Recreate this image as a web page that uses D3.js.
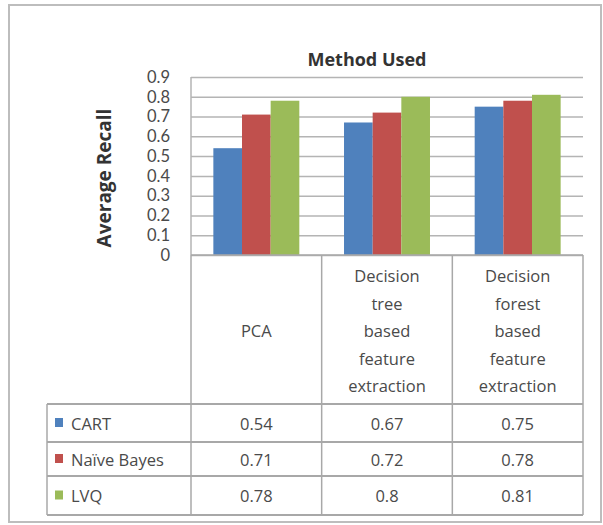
<!DOCTYPE html>
<html>
<head>
<meta charset="utf-8">
<script src="https://cdn.jsdelivr.net/npm/d3@7/dist/d3.min.js"></script>
<style>
  html, body { margin: 0; padding: 0; background: #fff; }
  svg { display: block; }
  text { font-family: "Open Sans", "Lato", sans-serif; }
</style>
</head>
<body>
<svg id="chart" width="603" height="525"></svg>
<script>
// ---- data ----
const categories = ["PCA", "Decision tree based feature extraction", "Decision forest based feature extraction"];
const categoryLines = [["PCA"], ["Decision", "tree", "based", "feature", "extraction"], ["Decision", "forest", "based", "feature", "extraction"]];
const seriesNames = ["CART", "Naïve Bayes", "LVQ"];
const cartValues = [0.54, 0.67, 0.75];
const naiveBayesValues = [0.71, 0.72, 0.78];
const lvqValues = [0.78, 0.8, 0.81];
const tableLabels = [["0.54", "0.67", "0.75"], ["0.71", "0.72", "0.78"], ["0.78", "0.8", "0.81"]];
const seriesColors = ["#4F81BD", "#C0504D", "#9BBB59"];
const yTicks = [0, 0.1, 0.2, 0.3, 0.4, 0.5, 0.6, 0.7, 0.8, 0.9];
const chartTitle = "Method Used";
const yTitle = "Average Recall";

const seriesValues = [cartValues, naiveBayesValues, lvqValues];

// ---- layout ----
const svg = d3.select("#chart");
const plot = { left: 191, right: 583, top: 77, bottom: 255 };
const table = { left: 47, headerBottom: 404, rowBottoms: [442, 476, 515] };
const gridColor = "#b4b4b4";
const lineColor = "#a8a8a8";

// outer frame
svg.append("rect")
  .attr("x", 9).attr("y", 5).attr("width", 592).attr("height", 517)
  .attr("fill", "#fff").attr("stroke", "#bdbdbd").attr("stroke-width", 2);

const x = d3.scaleBand().domain(categories).range([plot.left, plot.right]).padding(0);
const xs = d3.scaleBand().domain(seriesNames).range([0, x.bandwidth()]).paddingInner(0).paddingOuter(0.78);
const y = d3.scaleLinear().domain([0, 0.9]).range([plot.bottom, plot.top]);

// gridlines + y axis
const yAxis = d3.axisLeft(y)
  .tickValues(yTicks)
  .tickFormat(d => d3.format("")(+d.toFixed(1)))
  .tickSize(-(plot.right - plot.left))
  .tickPadding(21);
const gy = svg.append("g").attr("transform", `translate(${plot.left},0)`).call(yAxis);
gy.select(".domain").remove();
gy.selectAll(".tick line").attr("stroke", gridColor).attr("stroke-width", 1.5);
gy.selectAll(".tick text")
  .attr("font-size", 16.5).attr("fill", "#4a4a4a")
  .style("font-family", 'Lato, "Open Sans", sans-serif');

// left axis line
svg.append("line")
  .attr("x1", plot.left).attr("x2", plot.left)
  .attr("y1", plot.top).attr("y2", plot.bottom)
  .attr("stroke", gridColor).attr("stroke-width", 1.5);

// bars
const data = [];
categories.forEach((c, ci) => seriesNames.forEach((s, si) => data.push({ c, s, si, v: seriesValues[si][ci] })));
svg.append("g").selectAll("rect").data(data).join("rect")
  .attr("x", d => x(d.c) + xs(d.s))
  .attr("width", xs.bandwidth())
  .attr("y", d => y(d.v))
  .attr("height", d => y(0) - y(d.v))
  .attr("fill", d => seriesColors[d.si]);

// titles
svg.append("text")
  .attr("x", 367).attr("y", 59)
  .attr("text-anchor", "middle").attr("dominant-baseline", "central")
  .attr("font-size", 18).attr("font-weight", "bold").attr("fill", "#333")
  .text(chartTitle);

svg.append("text")
  .attr("transform", "translate(104,178) rotate(-90)")
  .attr("text-anchor", "middle").attr("dominant-baseline", "central")
  .attr("font-size", 19).attr("font-weight", "bold").attr("fill", "#333")
  .text(yTitle);

// ---- data table ----
const tg = svg.append("g");
const colEdges = [plot.left].concat(categories.map(c => x(c) + x.bandwidth()));
tg.append("line").attr("x1", plot.left).attr("x2", plot.right)
  .attr("y1", plot.bottom).attr("y2", plot.bottom)
  .attr("stroke", lineColor).attr("stroke-width", 1.5);
colEdges.forEach(cx => {
  tg.append("line").attr("x1", cx).attr("x2", cx)
    .attr("y1", plot.bottom).attr("y2", table.rowBottoms[2])
    .attr("stroke", lineColor).attr("stroke-width", 1.5);
});
tg.append("line").attr("x1", table.left).attr("x2", table.left)
  .attr("y1", table.headerBottom).attr("y2", table.rowBottoms[2])
  .attr("stroke", lineColor).attr("stroke-width", 1.5);
[table.headerBottom].concat(table.rowBottoms).forEach(ry => {
  tg.append("line").attr("x1", table.left).attr("x2", plot.right)
    .attr("y1", ry).attr("y2", ry)
    .attr("stroke", lineColor).attr("stroke-width", 2);
});

// header text
const headerMid = (plot.bottom + table.headerBottom) / 2 + 1;
const lineH = 27.5;
categories.forEach((c, ci) => {
  const lines = categoryLines[ci];
  const cx = x(c) + x.bandwidth() / 2;
  lines.forEach((ln, li) => {
    tg.append("text")
      .attr("x", cx)
      .attr("y", headerMid + (li - (lines.length - 1) / 2) * lineH)
      .attr("text-anchor", "middle").attr("dominant-baseline", "central")
      .attr("font-size", 16.5).attr("fill", "#4a4a4a")
      .text(ln);
  });
});

// rows
const rowTops = [table.headerBottom].concat(table.rowBottoms.slice(0, 2));
seriesNames.forEach((s, si) => {
  const cy = (rowTops[si] + table.rowBottoms[si]) / 2;
  tg.append("rect")
    .attr("x", 55).attr("y", cy - 5).attr("width", 8).attr("height", 9)
    .attr("fill", seriesColors[si]);
  tg.append("text")
    .attr("x", 71).attr("y", cy)
    .attr("dominant-baseline", "central")
    .attr("font-size", 16.5).attr("fill", "#4a4a4a")
    .text(s);
  categories.forEach((c, ci) => {
    tg.append("text")
      .attr("x", x(c) + x.bandwidth() / 2).attr("y", cy)
      .attr("text-anchor", "middle").attr("dominant-baseline", "central")
      .attr("font-size", 16.5).attr("fill", "#4a4a4a")
      .text(tableLabels[si][ci]);
  });
});
</script>
</body>
</html>
